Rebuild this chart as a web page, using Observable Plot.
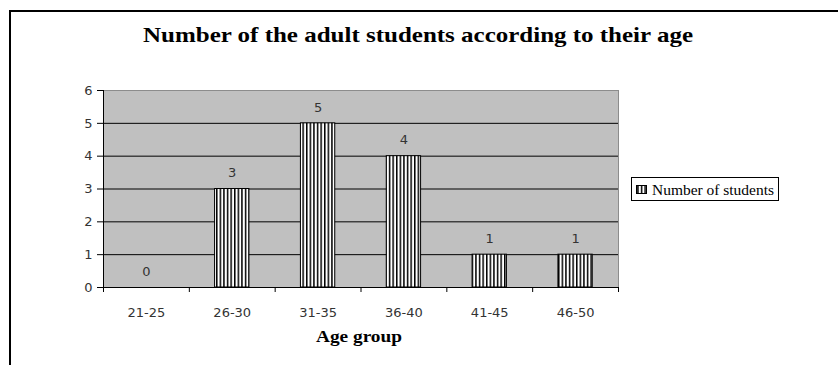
<!DOCTYPE html>
<html>
<head>
<meta charset="utf-8">
<script src="https://cdn.jsdelivr.net/npm/d3@7"></script>
<script src="https://cdn.jsdelivr.net/npm/@observablehq/plot@0.6"></script>
<style>
  html, body { margin: 0; padding: 0; background: #fff; }
  #chart { width: 838px; height: 365px; overflow: hidden; }
</style>
</head>
<body>
<div id="chart"></div>
<script>
// ---- data ----
const categories = ["21-25", "26-30", "31-35", "36-40", "41-45", "46-50"];
const counts = [0, 3, 5, 4, 1, 1];
const yTicks = [0, 1, 2, 3, 4, 5, 6];
const titleText = "Number of the adult students according to their age";
const xTitle = "Age group";
const seriesName = "Number of students";

const data = categories.map((c, i) => ({i, category: c, count: counts[i]}));
const boundaries = d3.range(categories.length + 1);
const centers = categories.map((c, i) => i + 0.5);

const tickFont = "DejaVu Sans, sans-serif";

const plot = Plot.plot({
  width: 838,
  height: 365,
  marginLeft: 103,
  marginRight: 220,
  marginTop: 90,
  marginBottom: 78,
  style: {background: "transparent", fontFamily: tickFont, fontSize: "13px", color: "#333"},
  x: {domain: [0, categories.length], axis: null},
  y: {domain: [0, 6], axis: null},
  marks: [
    Plot.frame({fill: "#c0c0c0", stroke: "#8c8c8c"}),
    Plot.ruleY(yTicks.filter(t => t > 0 && t < 6), {stroke: "#000", strokeWidth: 1}),
    Plot.rectY(data, {
      x1: d => d.i + 0.3,
      x2: d => d.i + 0.7,
      y: "count",
      fill: "url(#vstripes)",
      stroke: "#000",
      strokeWidth: 1
    }),
    Plot.text(data, {
      x: d => d.i + 0.5,
      y: "count",
      text: d => String(d.count),
      dy: -16,
      fill: "#333",
      fontSize: 13
    }),
    Plot.ruleX([0], {stroke: "#000"}),
    Plot.ruleY([0], {stroke: "#000"}),
    Plot.axisY({
      ticks: yTicks,
      tickSize: 6,
      tickPadding: 5,
      tickFormat: "d",
      label: null,
      stroke: "#000",
      fill: "#333",
      fontSize: 13
    }),
    Plot.axisX({
      ticks: boundaries,
      tickSize: 5,
      tickFormat: () => "",
      label: null,
      stroke: "#000"
    }),
    Plot.axisX({
      ticks: centers,
      tickSize: 0,
      tickPadding: 20,
      tickFormat: v => categories[Math.floor(v)],
      label: null,
      fill: "#333",
      fontSize: 13
    })
  ]
});

document.getElementById("chart").appendChild(plot);

const svg = d3.select(plot);

// pattern definition for vertical stripes
const defs = svg.insert("defs", ":first-child");
const pat = defs.append("pattern")
  .attr("id", "vstripes")
  .attr("patternUnits", "userSpaceOnUse")
  .attr("width", 3.6)
  .attr("height", 4);
pat.append("rect").attr("width", 3.6).attr("height", 4).attr("fill", "#fff");
pat.append("rect").attr("x", 0).attr("width", 1.5).attr("height", 4).attr("fill", "#000");

// outer chart border (left and top visible)
svg.append("path")
  .attr("d", "M10,370V11H845")
  .attr("fill", "none")
  .attr("stroke", "#000")
  .attr("stroke-width", 2);

// title
svg.append("text")
  .attr("x", 418)
  .attr("y", 42)
  .attr("text-anchor", "middle")
  .attr("font-family", "Liberation Serif, Times New Roman, serif")
  .attr("font-weight", "bold")
  .attr("font-size", 22)
  .attr("fill", "#000")
  .attr("textLength", 550)
  .attr("lengthAdjust", "spacingAndGlyphs")
  .text(titleText);

// x axis title
svg.append("text")
  .attr("x", 359)
  .attr("y", 342)
  .attr("text-anchor", "middle")
  .attr("font-family", "Liberation Serif, Times New Roman, serif")
  .attr("font-weight", "bold")
  .attr("font-size", 16)
  .attr("fill", "#000")
  .attr("textLength", 86)
  .attr("lengthAdjust", "spacingAndGlyphs")
  .text(xTitle);

// legend
const lg = svg.append("g");
lg.append("rect")
  .attr("x", 631.5).attr("y", 177.5)
  .attr("width", 147).attr("height", 23)
  .attr("fill", "#fff").attr("stroke", "#000");
lg.append("rect")
  .attr("x", 636.5).attr("y", 185.5)
  .attr("width", 10).attr("height", 8)
  .attr("fill", "url(#vstripes)").attr("stroke", "#000");
lg.append("text")
  .attr("x", 652).attr("y", 195)
  .attr("text-anchor", "start")
  .attr("font-family", "Liberation Serif, Times New Roman, serif")
  .attr("font-size", 14)
  .attr("fill", "#000")
  .attr("textLength", 122)
  .attr("lengthAdjust", "spacingAndGlyphs")
  .text(seriesName);
</script>
</body>
</html>
